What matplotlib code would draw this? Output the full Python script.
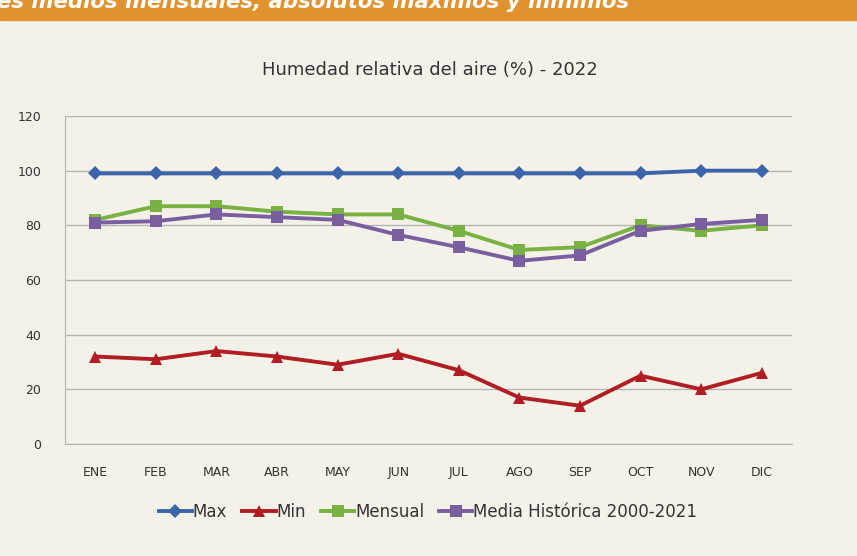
import matplotlib
matplotlib.use("Agg")
import matplotlib.pyplot as plt
from matplotlib.patches import Rectangle

plt.rcParams["font.family"] = ["DejaVu Sans"]

meses = ["ENE", "FEB", "MAR", "ABR", "MAY", "JUN", "JUL", "AGO", "SEP", "OCT", "NOV", "DIC"]
hum_max = [99, 99, 99, 99, 99, 99, 99, 99, 99, 99, 100, 100]
hum_min = [32, 31, 34, 32, 29, 33, 27, 17, 14, 25, 20, 26]
hum_mensual = [82, 87, 87, 85, 84, 84, 78, 71, 72, 80, 78, 80]
hum_media = [81, 81.5, 84, 83, 82, 76.5, 72, 67, 69, 78, 80.5, 82]

bg = "#F4F1E9"
fig = plt.figure(figsize=(8.57, 5.56), dpi=100, facecolor=bg)

# orange banner at the top (title text cut by the crop, like the original)
fig.patches.append(Rectangle((0, 1 - 20 / 556), 1, 20 / 556, transform=fig.transFigure,
                             color="#E0922F", zorder=0))
fig.text(-0.004, 1 - 1 / 556, "es medios mensuales, absolutos máximos y mínimos",
         color="white", fontsize=15.3, fontweight="bold", style="italic",
         ha="left", va="center")

ax = fig.add_axes([65 / 857, 1 - 444 / 556, 727 / 857, 328 / 556])
ax.set_facecolor(bg)

x = range(len(meses))
series = [
    (hum_max, "Max", "#3C64AA", "D", 7),
    (hum_min, "Min", "#B01E23", "^", 8),
    (hum_mensual, "Mensual", "#79B142", "s", 8),
    (hum_media, "Media Histórica 2000-2021", "#7A5FA0", "s", 9),
]
lines = []
for vals, lab, col, mk, ms in series:
    l, = ax.plot(x, vals, color=col, lw=2.8, marker=mk, markersize=ms,
                 markeredgewidth=0, label=lab, zorder=3)
    lines.append(l)

ax.set_xlim(-0.5, 11.5)
ax.set_ylim(0, 120)
ax.set_yticks(range(0, 121, 20))
ax.set_xticks(list(x))
ax.set_xticklabels(meses)
ax.yaxis.grid(True, color="#B5B5B5", lw=1)
ax.set_axisbelow(True)
for s in ["top", "right"]:
    ax.spines[s].set_visible(False)
for s in ["left", "bottom"]:
    ax.spines[s].set_color("#B5B5B5")
ax.tick_params(length=0, labelsize=9, colors="#333333")
ax.tick_params(axis="x", pad=16)
ax.tick_params(axis="y", pad=17)

fig.text(430 / 857, 1 - 70 / 556, "Humedad relativa del aire (%) - 2022",
         ha="center", va="center", fontsize=13, color="#333333")

fig.legend(handles=lines, loc="center", bbox_to_anchor=(428 / 857, 1 - 512 / 556),
           ncol=4, frameon=False, fontsize=12, handlelength=2.0, handletextpad=0.05,
           columnspacing=0.9, labelcolor="#333333")

fig.savefig("out.png", dpi=100, facecolor=bg)
